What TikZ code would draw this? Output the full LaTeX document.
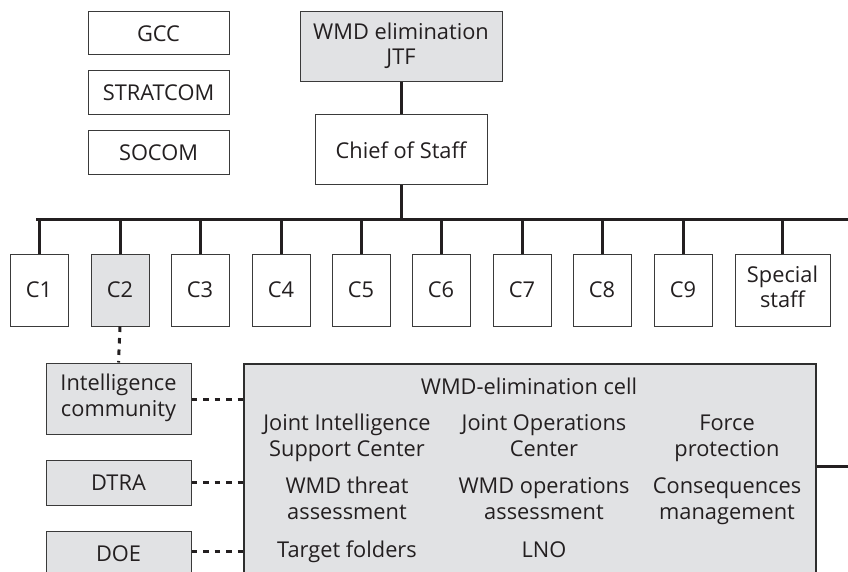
\documentclass[tikz,border=0pt]{standalone}
\usepackage{fontspec}
\setmainfont{Open Sans}
\definecolor{boxfill}{HTML}{E1E2E4}
\definecolor{edge}{HTML}{3A3A3A}
\definecolor{ink}{HTML}{231F20}
\newcommand{\ls}{\strut}
\begin{document}
\begin{tikzpicture}[x=1pt,y=-1pt,
  font=\fontsize{21.8}{25.5}\selectfont,
  box/.style={draw=edge,line width=1pt,fill=white,inner sep=0pt,align=center,text=ink},
  gbox/.style={box,fill=boxfill},
  conn/.style={draw=ink,line width=3pt},
  dotconn/.style={draw=ink,line width=3pt,dash pattern=on 5.5pt off 6pt},
  celltxt/.style={align=center,text=ink,inner sep=0pt}]
\useasboundingbox (0,0) rectangle (848,572);
\clip (0,0) rectangle (848,572);
% top-left boxes
\node[box,minimum width=141pt,minimum height=43pt] (gcc) at (158.5,33.5) {GCC};
\node[box,minimum width=141pt,minimum height=44pt] (stratcom) at (158.5,93) {STRATCOM};
\node[box,minimum width=141pt,minimum height=44pt] (socom) at (158.5,153) {SOCOM};
% command
\node[gbox,minimum width=202pt,minimum height=70pt] (jtf) at (401,47) {\ls WMD elimination\\JTF\ls};
\node[box,minimum width=172pt,minimum height=70pt] (cos) at (401,150) {Chief of Staff};
% bus coordinates
\coordinate (busL) at (37,219);
\coordinate (busR) at (848,219);
\coordinate (busC) at (401,219);
% staff boxes
\foreach \n/\x in {1/39,3/200,4/281,5/361,6/441,7/522,8/602,9/683}{
  \node[box,minimum width=58pt,minimum height=72pt] (c\n) at (\x,290) {C\n};
}
\node[gbox,minimum width=58pt,minimum height=72pt] (c2) at (120,290) {C2};
\node[box,minimum width=95pt,minimum height=72pt] (spec) at (782.5,290) {\ls Special\\staff\ls};
% connectors
\draw[conn] (jtf.south) -- (cos.north);
\draw[conn] (cos.south) -- (busC);
\draw[conn,line cap=rect] (busL) -- (busR);
\foreach \nm in {c1,c2,c3,c4,c5,c6,c7,c8,c9,spec}{
  \draw[conn] (\nm.north) -- (\nm.north |- busL);
}
% lower left
\node[gbox,minimum width=145pt,minimum height=71pt] (intel) at (118.5,398.5) {\ls Intelligence\\community\ls};
\node[gbox,minimum width=145pt,minimum height=45pt] (dtra) at (118.5,482.5) {DTRA};
\node[gbox,minimum width=145pt,minimum height=45pt] (doe) at (118.5,553.5) {DOE};
% cell
\node[gbox,draw=edge!80!black,line width=1.6pt,minimum width=572pt,minimum height=260pt,anchor=north west] (cell) at (243,363) {};
\node[celltxt] (title) at (529,389) {WMD-elimination cell\ls};
\node[celltxt] (jisc) at (347,438.5) {\ls Joint Intelligence\\Support Center\ls};
\node[celltxt] (joc) at (544,438.5) {\ls Joint Operations\\Center\ls};
\node[celltxt] (fp) at (727,438.5) {\ls Force\\protection\ls};
\node[celltxt] (wta) at (347,501.5) {\ls WMD threat\\assessment\ls};
\node[celltxt] (woa) at (544,501.5) {\ls WMD operations\\assessment\ls};
\node[celltxt] (cm) at (727,501.5) {\ls Consequences\\management\ls};
\node[celltxt] (tf) at (347,552) {\ls Target folders};
\node[celltxt] (lno) at (544,552) {\ls LNO};
% dotted links
\draw[dotconn] (c2.south) -- (intel.north);
\draw[dotconn] (intel.east |- 0,399) -- (cell.west |- 0,399);
\draw[dotconn] (dtra.east) -- (dtra.east -| cell.west);
\draw[dotconn] (doe.east |- 0,551) -- (cell.west |- 0,551);
\coordinate (rEnd) at (848,466);
\draw[conn] (cell.east |- rEnd) -- (rEnd);
\end{tikzpicture}
\end{document}
